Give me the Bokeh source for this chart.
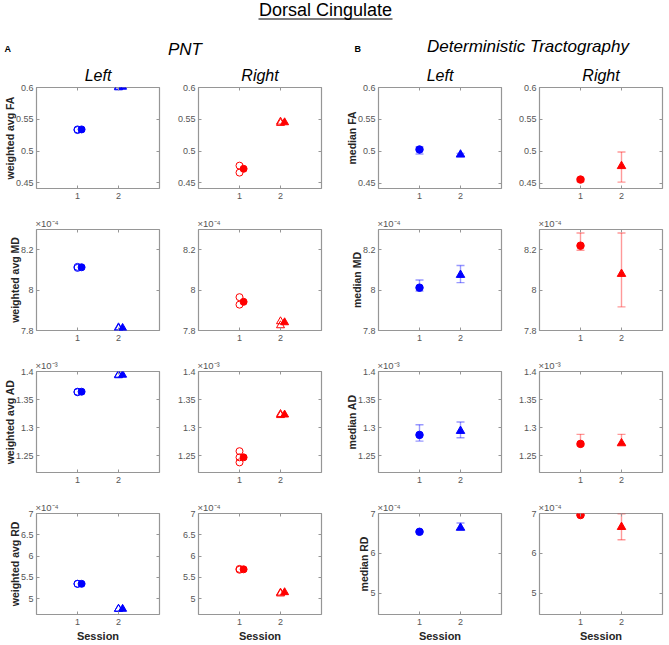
from bokeh.plotting import figure
from bokeh.layouts import column, row
from bokeh.models import Range1d, FixedTicker, LinearAxis, ColumnDataSource, Whisker, TeeHead, Title
from bokeh.embed import file_html
from bokeh.resources import INLINE
from bokeh.core.properties import value

# ---------------- data ----------------
main_title = "Dorsal Cingulate"
panel_letters = ["A", "B"]
method_titles = ["PNT", "Deterministic Tractography"]
side_titles = ["Left", "Right"]
x_label = "Session"
sessions = [1, 2]
x_tick_labels = ["1", "2"]

metrics = ["FA", "MD", "AD", "RD"]
exponent_labels = ["", "\u00d710\u207b\u2074", "\u00d710\u207b\u00b3", "\u00d710\u207b\u2074"]
pnt_ylabels = ["weighted avg FA", "weighted avg MD", "weighted avg AD", "weighted avg RD"]
det_ylabels = ["median FA", "median MD", "median AD", "median RD"]

# y ticks (values shown in units of the exponent label)
fa_ticks = [0.45, 0.5, 0.55, 0.6]
fa_tick_labels = ["0.45", "0.5", "0.55", "0.6"]
md_ticks = [7.8, 8.0, 8.2]
md_tick_labels = ["7.8", "8", "8.2"]
ad_ticks = [1.25, 1.3, 1.35, 1.4]
ad_tick_labels = ["1.25", "1.3", "1.35", "1.4"]
rd_pnt_ticks = [5, 5.5, 6, 6.5, 7]
rd_pnt_tick_labels = ["5", "5.5", "6", "6.5", "7"]
rd_det_ticks = [5, 6, 7]
rd_det_tick_labels = ["5", "6", "7"]

# axis limits per metric
pnt_ylims = [(0.441, 0.6), (7.8, 8.3), (1.22, 1.4), (4.63, 7.0)]
det_ylims = [(0.442, 0.6), (7.8, 8.3), (1.22, 1.4), (4.46, 7.0)]

# PNT: individual (open) values and mean (filled) per session, rows FA, MD, AD, RD
pnt_left_s1_open = [[0.534, 0.533], [8.115, 8.110], [1.364, 1.363], [5.35, 5.35]]
pnt_left_s1_mean = [0.534, 8.113, 1.364, 5.35]
pnt_left_s2_open = [[0.601, 0.600], [7.815, 7.810], [1.394, 1.393], [4.76, 4.76]]
pnt_left_s2_mean = [0.601, 7.812, 1.394, 4.76]
pnt_right_s1_open = [[0.477, 0.466], [7.965, 7.928], [1.258, 1.247, 1.238], [5.70, 5.68]]
pnt_right_s1_mean = [0.472, 7.942, 1.247, 5.69]
pnt_right_s2_open = [[0.546, 0.544], [7.845, 7.825], [1.324, 1.322], [5.14, 5.12]]
pnt_right_s2_mean = [0.545, 7.840, 1.323, 5.15]

# Deterministic tractography: median with lower / upper error, per session
det_left_mean = [[0.503, 0.495], [8.012, 8.075], [1.287, 1.294], [6.54, 6.64]]
det_left_lower = [[0.496, 0.493], [7.995, 8.037], [1.276, 1.282], [6.52, 6.60]]
det_left_upper = [[0.507, 0.497], [8.050, 8.122], [1.305, 1.310], [6.56, 6.76]]
det_right_mean = [[0.456, 0.477], [8.220, 8.080], [1.271, 1.272], [6.96, 6.66]]
det_right_lower = [[0.453, 0.452], [8.197, 7.917], [1.268, 1.270], [6.95, 6.34]]
det_right_upper = [[0.458, 0.499], [8.283, 8.283], [1.288, 1.288], [6.97, 6.99]]

# ---------------- style ----------------
FONT = "Liberation Sans"
FRAME = "#969696"
TICKC = "#555555"
LABELC = "#262626"
BLUE = "#0000ff"
RED = "#ff0000"
MEAN_SHIFT = 0.1
MSIZE = 7

col_left = [36, 29, 47, 29]
col_right = [10, 10, 9, 5]
row_top = [27, 16, 16, 16]
row_bottom = [25, 25, 25, 30]
FW, FH = 123, 101
TOTAL_W = 667
HEADER_H = 60

pnt_ticks = [(fa_ticks, fa_tick_labels), (md_ticks, md_tick_labels), (ad_ticks, ad_tick_labels),
             (rd_pnt_ticks, rd_pnt_tick_labels)]
det_ticks = [(fa_ticks, fa_tick_labels), (md_ticks, md_tick_labels), (ad_ticks, ad_tick_labels),
             (rd_det_ticks, rd_det_tick_labels)]


def mirror_axis(ticks):
    return LinearAxis(ticker=FixedTicker(ticks=ticks), major_label_text_font_size="0px",
                      major_label_text_color=None, major_tick_in=3, major_tick_out=0,
                      major_tick_line_color=FRAME, minor_tick_line_color=None,
                      axis_line_color=None, major_label_standoff=0)


def make_panel(ri, ci, ylim, ticks, ylabel):
    p = figure(frame_width=FW, frame_height=FH, x_range=Range1d(0, 3), y_range=Range1d(*ylim),
               output_backend="svg", toolbar_location=None, title=None,
               min_border_left=col_left[ci], min_border_right=col_right[ci],
               min_border_top=row_top[ri], min_border_bottom=row_bottom[ri])
    p.grid.visible = False
    p.outline_line_color = FRAME
    p.outline_line_width = 1.2
    p.background_fill_color = "white"
    p.border_fill_color = "white"
    yt, ytl = ticks
    for ax in p.xaxis:
        ax.ticker = FixedTicker(ticks=sessions)
        ax.major_label_overrides = {s: l for s, l in zip(sessions, x_tick_labels)}
        ax.major_label_standoff = 4
        ax.axis_label_standoff = 2
    for ax in p.yaxis:
        ax.ticker = FixedTicker(ticks=yt)
        ax.major_label_overrides = {t: l for t, l in zip(yt, ytl)}
        ax.major_label_standoff = 3
        ax.axis_label_standoff = -3
    for ax in p.axis:
        ax.axis_line_color = None
        ax.major_tick_in = 3
        ax.major_tick_out = 0
        ax.major_tick_line_color = FRAME
        ax.minor_tick_line_color = None
        ax.major_label_text_font = FONT
        ax.major_label_text_font_size = "9px"
        ax.major_label_text_color = TICKC
        ax.axis_label_text_font = FONT
        ax.axis_label_text_font_style = "bold"
        ax.axis_label_text_font_size = "10.5px"
        ax.axis_label_text_color = LABELC
    if ylabel:
        p.yaxis.axis_label = ylabel
    if ri == 3:
        p.xaxis.axis_label = x_label
        p.xaxis.axis_label_text_font_size = "11px"
    # mirrored ticks on right and top (box on)
    p.add_layout(mirror_axis(yt), "right")
    p.add_layout(mirror_axis(sessions), "above")
    if ri == 0:
        p.add_layout(Title(text=side_titles[ci % 2], align="center", text_font=FONT,
                           text_font_size="16px", text_font_style="italic",
                           text_color="black", standoff=7), "above")
    elif exponent_labels[ri]:
        p.add_layout(Title(text=exponent_labels[ri], align="left", text_font=FONT,
                           text_font_size="9.5px", text_font_style="normal",
                           text_color=TICKC, standoff=1, offset=-1), "above")
    return p


def pnt_panel(ri, ci, color, s1_open, s1_mean, s2_open, s2_mean):
    p = make_panel(ri, ci, pnt_ylims[ri], pnt_ticks[ri], pnt_ylabels[ri] if ci == 0 else None)
    o1 = s1_open[ri]
    o2 = s2_open[ri]
    p.scatter([sessions[0]] * len(o1), o1, marker="circle", size=MSIZE, fill_color=None,
              line_color=color, line_width=1)
    p.scatter([sessions[1]] * len(o2), o2, marker="triangle", size=MSIZE + 1, fill_color=None,
              line_color=color, line_width=1)
    p.scatter([sessions[0] + MEAN_SHIFT], [s1_mean[ri]], marker="circle", size=MSIZE,
              fill_color=color, line_color=color)
    p.scatter([sessions[1] + MEAN_SHIFT], [s2_mean[ri]], marker="triangle", size=MSIZE + 1,
              fill_color=color, line_color=color)
    return p


def det_panel(ri, ci, color, mean, lower, upper):
    p = make_panel(ri, ci, det_ylims[ri], det_ticks[ri], det_ylabels[ri] if ci == 2 else None)
    src = ColumnDataSource(dict(x=sessions, y=mean[ri], lower=lower[ri], upper=upper[ri]))
    w = Whisker(source=src, base="x", upper="upper", lower="lower", line_color=color,
                line_alpha=0.4, line_width=1.4,
                upper_head=TeeHead(size=8, line_color=color, line_alpha=0.4, line_width=1.4),
                lower_head=TeeHead(size=8, line_color=color, line_alpha=0.4, line_width=1.4))
    p.add_layout(w)
    p.scatter([sessions[0]], [mean[ri][0]], marker="circle", size=MSIZE + 0.5,
              fill_color=color, line_color=color)
    p.scatter([sessions[1]], [mean[ri][1]], marker="triangle", size=MSIZE + 1.5,
              fill_color=color, line_color=color)
    return p


# ---------------- header ----------------
hdr = figure(width=TOTAL_W, height=HEADER_H, x_range=Range1d(0, TOTAL_W), y_range=Range1d(HEADER_H, 0),
             output_backend="svg", toolbar_location=None, min_border=0,
             x_axis_location=None, y_axis_location=None)
hdr.grid.visible = False
hdr.outline_line_color = None
hdr.text(x=[325], y=[9.5], text=[main_title], text_font=value(FONT), text_font_size="18px",
         text_align="center", text_baseline="middle", text_color="black")
hdr.segment(x0=[325 - 67], y0=[18.5], x1=[325 + 67], y1=[18.5], line_color="black", line_width=1.2)
hdr.text(x=[4, 354], y=[48.5, 48], text=panel_letters, text_font=value(FONT), text_font_size="9px",
         text_font_style="bold", text_align="left", text_baseline="middle", text_color="black")
hdr.text(x=[184.5, 527.5], y=[48.5, 46], text=method_titles, text_font=value(FONT), text_font_size="17px",
         text_font_style="italic", text_align="center", text_baseline="middle", text_color="black")

rows = [hdr]
for ri in range(4):
    figs = [
        pnt_panel(ri, 0, BLUE, pnt_left_s1_open, pnt_left_s1_mean, pnt_left_s2_open, pnt_left_s2_mean),
        pnt_panel(ri, 1, RED, pnt_right_s1_open, pnt_right_s1_mean, pnt_right_s2_open, pnt_right_s2_mean),
        det_panel(ri, 2, BLUE, det_left_mean, det_left_lower, det_left_upper),
        det_panel(ri, 3, RED, det_right_mean, det_right_lower, det_right_upper),
    ]
    rows.append(row(*figs))

layout = column(*rows)
open("out.html", "w").write(file_html(layout, INLINE))
